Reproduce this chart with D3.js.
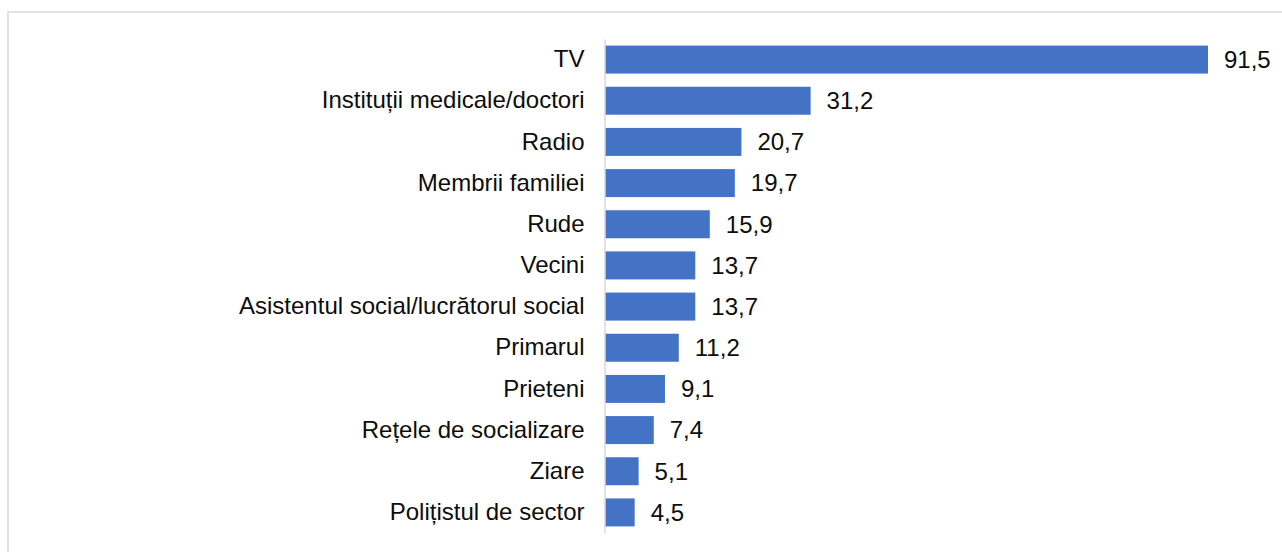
<!DOCTYPE html>
<html><head><meta charset="utf-8">
<script src="https://cdn.jsdelivr.net/npm/d3@7"></script>
<style>body{margin:0;background:#fff;}svg{display:block;}</style>
</head><body>
<svg id="chart" width="1282" height="552"></svg>
<script>
const categories = ["TV","Instituții medicale/doctori","Radio","Membrii familiei","Rude","Vecini","Asistentul social/lucrătorul social","Primarul","Prieteni","Rețele de socializare","Ziare","Polițistul de sector"];
const values = [91.5,31.2,20.7,19.7,15.9,13.7,13.7,11.2,9.1,7.4,5.1,4.5];
const valueLabels = ["91,5","31,2","20,7","19,7","15,9","13,7","13,7","11,2","9,1","7,4","5,1","4,5"];

const svg = d3.select("#chart");
svg.append("rect").attr("x",8).attr("y",12).attr("width",1400).attr("height",700)
  .attr("fill","none").attr("stroke","#d9d9d9").attr("stroke-width",1.5);

const x = d3.scaleLinear().domain([0, 91.5]).range([605, 1208]);
const y = d3.scaleBand().domain(categories).range([39, 533]).paddingInner(0.32).paddingOuter(0.16);
const font = "Liberation Sans, Arial, sans-serif";

svg.selectAll("rect.bar").data(categories).join("rect").attr("class","bar")
  .attr("x", x(0)).attr("y", d => y(d))
  .attr("width", (d,i) => x(values[i]) - x(0)).attr("height", y.bandwidth())
  .attr("fill","#4472C4");

const axis = svg.append("g").attr("transform","translate(604.5,0)")
  .call(d3.axisLeft(y).tickSize(0).tickPadding(20));
axis.select(".domain").attr("stroke","#d9d9d9").attr("stroke-width",1.5);
axis.selectAll("text").attr("font-family",font).attr("font-size",24).attr("fill","#0d0d0d");

svg.selectAll("text.val").data(categories).join("text").attr("class","val")
  .attr("x", (d,i) => x(values[i]) + 16)
  .attr("y", d => y(d) + y.bandwidth()/2).attr("dy","0.35em")
  .attr("font-family",font).attr("font-size",24).attr("fill","#0d0d0d")
  .text((d,i) => valueLabels[i]);
</script>
</body></html>
